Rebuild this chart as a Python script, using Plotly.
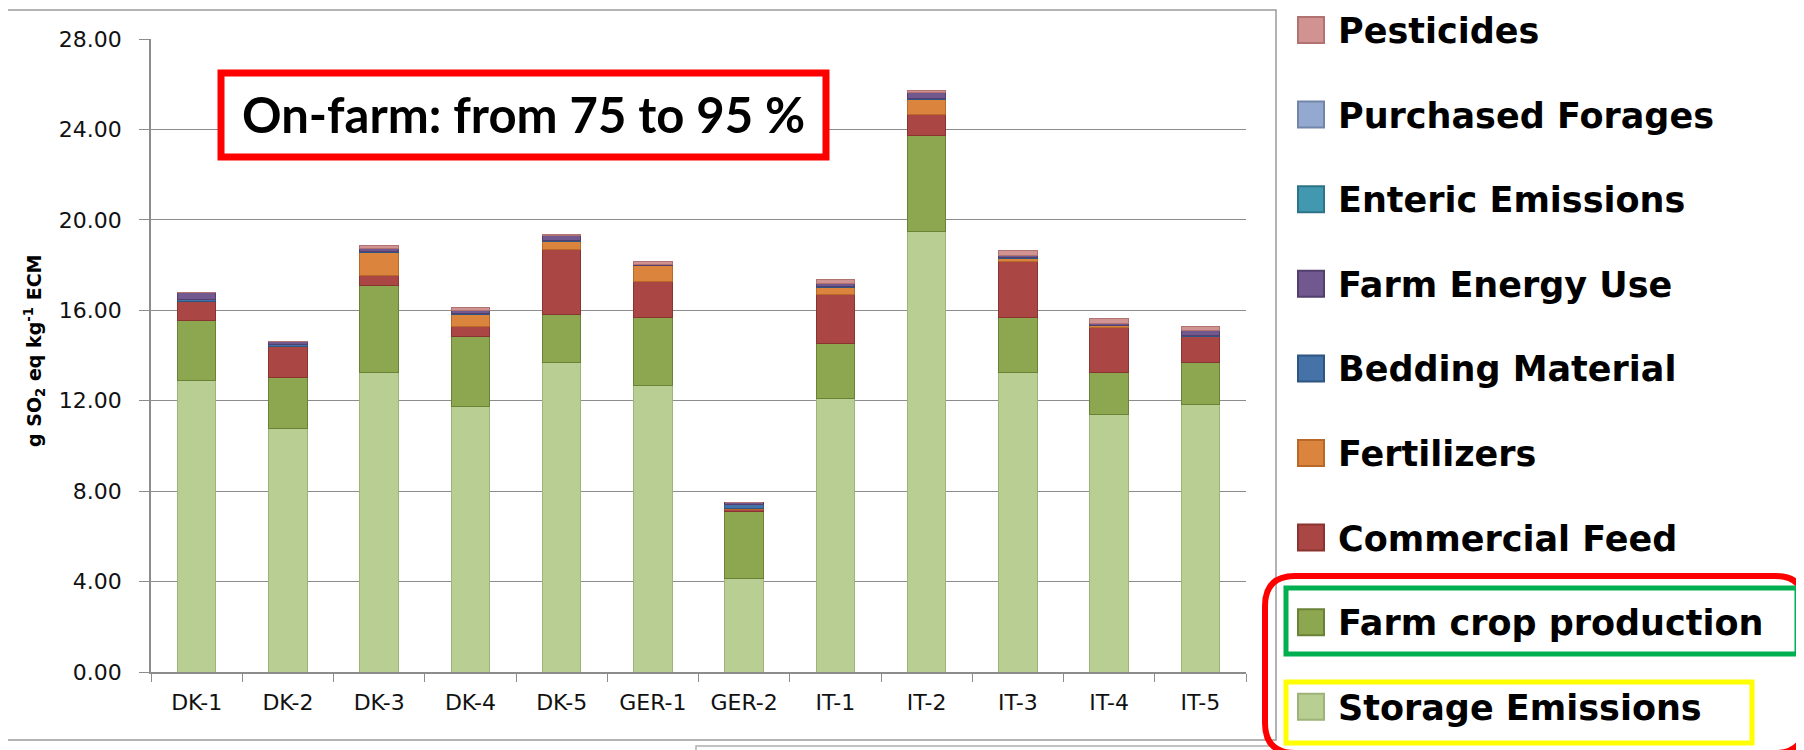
import plotly.graph_objects as go

categories = ["DK-1", "DK-2", "DK-3", "DK-4", "DK-5", "GER-1", "GER-2", "IT-1", "IT-2", "IT-3", "IT-4", "IT-5"]

storage_emissions = [12.89, 10.76, 13.25, 11.76, 13.68, 12.69, 4.13, 12.10, 19.47, 13.25, 11.40, 11.84]
farm_crop_production = [2.64, 2.27, 3.86, 3.06, 2.14, 2.97, 2.98, 2.42, 4.28, 2.41, 1.84, 1.84]
commercial_feed = [0.84, 1.39, 0.44, 0.47, 2.88, 1.62, 0.10, 2.19, 0.91, 2.48, 2.01, 1.14]
fertilizers = [0.00, 0.00, 0.99, 0.53, 0.33, 0.68, 0.03, 0.32, 0.68, 0.15, 0.06, 0.00]
bedding_material = [0.10, 0.06, 0.04, 0.04, 0.04, 0.02, 0.15, 0.03, 0.05, 0.03, 0.02, 0.05]
farm_energy_use = [0.30, 0.14, 0.14, 0.14, 0.22, 0.06, 0.12, 0.14, 0.26, 0.10, 0.10, 0.22]
enteric_emissions = [0.0] * 12
purchased_forages = [0.0] * 12
pesticides = [0.03, 0.02, 0.14, 0.13, 0.08, 0.10, 0.00, 0.16, 0.09, 0.22, 0.20, 0.20]

y_ticks = [0, 4, 8, 12, 16, 20, 24, 28]

# stacking order bottom -> top
series = [
    ("Storage Emissions", storage_emissions, "#B8CE93", "#9DB377"),
    ("Farm crop production", farm_crop_production, "#8CA750", "#6A8236"),
    ("Commercial Feed", commercial_feed, "#AA4643", "#8A3431"),
    ("Fertilizers", fertilizers, "#DB843D", "#B8692A"),
    ("Bedding Material", bedding_material, "#4572A7", "#2F5582"),
    ("Farm Energy Use", farm_energy_use, "#71588F", "#533F6E"),
    ("Enteric Emissions", enteric_emissions, "#4198AF", "#2D7488"),
    ("Purchased Forages", purchased_forages, "#93A9CF", "#7286AA"),
    ("Pesticides", pesticides, "#D19392", "#B07372"),
]

fig = go.Figure()
for name, vals, col, lcol in series:
    fig.add_trace(go.Bar(
        x=categories, y=vals, name=name, showlegend=False,
        marker=dict(color=col, line=dict(color=lcol, width=1)),
    ))

# geometry (pixels of the 1804x750 canvas)
W, H = 1804, 750
PL, PR, PT, PB = 143, 1238, 31, 664


def px(x):
    return (x - PL) / (PR - PL)


def py(y):
    return (PB - y) / (PB - PT)


shapes = []
annotations = []

# chart-area border
shapes.append(dict(type="path", xref="paper", yref="paper",
                   path=f"M{px(-5)},{py(2)} L{px(1268)},{py(2)} L{px(1268)},{py(732)} L{px(-5)},{py(732)}",
                   line=dict(color="#9a9a9a", width=1.5)))
# lower partial box
shapes.append(dict(type="path", xref="paper", yref="paper",
                   path=f"M{px(688)},{py(760)} L{px(688)},{py(738)} L{px(1268)},{py(738)}",
                   line=dict(color="#b0b0b0", width=1.5)))

# legend (top entry = last stacked series)
LEG_Y0, LEG_DY = 22, 84.6
for i, (name, vals, col, lcol) in enumerate(reversed(series)):
    yc = LEG_Y0 + LEG_DY * i
    shapes.append(dict(type="rect", xref="paper", yref="paper",
                       x0=px(1290), x1=px(1316), y0=py(yc - 13), y1=py(yc + 13),
                       fillcolor=col, line=dict(color=lcol, width=2)))
    annotations.append(dict(xref="paper", yref="paper", x=px(1328), y=py(yc + 1),
                            text=f"<b>{name}</b>", showarrow=False,
                            xanchor="left", yanchor="middle",
                            font=dict(family="DejaVu Sans", size=35, color="black")))

# annotation box
shapes.append(dict(type="rect", xref="paper", yref="paper",
                   x0=px(213), x1=px(818), y0=py(65), y1=py(149),
                   line=dict(color="#FF0000", width=7), fillcolor="white", layer="above"))
annotations.append(dict(xref="paper", yref="paper", x=px(515), y=py(106),
                        text="<b>On-farm: from 75 to 95 %</b>", showarrow=False,
                        font=dict(family="Lato", size=49, color="black"),
                        xanchor="center", yanchor="middle"))


def rounded(x0, y0, x1, y1, r):
    X0, X1 = px(x0), px(x1)
    Y0, Y1 = py(y0), py(y1)
    rx = r / (PR - PL)
    ry = r / (PB - PT)
    return (f"M{X0+rx},{Y0} L{X1-rx},{Y0} Q{X1},{Y0} {X1},{Y0-ry} "
            f"L{X1},{Y1+ry} Q{X1},{Y1} {X1-rx},{Y1} L{X0+rx},{Y1} "
            f"Q{X0},{Y1} {X0},{Y1+ry} L{X0},{Y0-ry} Q{X0},{Y0} {X0+rx},{Y0} Z")


shapes.append(dict(type="path", xref="paper", yref="paper",
                   path=rounded(1257, 568, 1797, 745, 30),
                   line=dict(color="#FF0000", width=6)))
shapes.append(dict(type="rect", xref="paper", yref="paper",
                   x0=px(1278), x1=px(1789), y0=py(580), y1=py(646),
                   line=dict(color="#00B050", width=5)))
shapes.append(dict(type="rect", xref="paper", yref="paper",
                   x0=px(1278), x1=px(1744), y0=py(674), y1=py(735),
                   line=dict(color="#FFFF00", width=5)))

# y-axis title
annotations.append(dict(xref="paper", yref="paper", x=px(26), y=py(343),
                        text="<b>g SO<sub>2</sub> eq kg<sup>-1</sup> ECM</b>", showarrow=False,
                        textangle=-90, font=dict(family="DejaVu Sans", size=19, color="black"),
                        xanchor="center", yanchor="middle"))

fig.update_layout(
    width=W, height=H,
    barmode="stack", bargap=0.58,
    plot_bgcolor="white", paper_bgcolor="white",
    margin=dict(l=PL, r=W - PR, t=PT, b=H - PB, autoexpand=False),
    showlegend=False,
    shapes=shapes,
    annotations=annotations,
)
fig.update_xaxes(
    type="category", showline=True, linecolor="#8c8c8c", linewidth=1.5,
    ticks="outside", tickson="boundaries", ticklen=8, tickcolor="#8c8c8c",
    ticklabelstandoff=10,
    tickfont=dict(family="DejaVu Sans", size=22, color="#111"), showgrid=False,
)
fig.update_yaxes(
    range=[0, 28], tickvals=y_ticks, ticktext=[f"{v:.2f}" for v in y_ticks],
    showline=True, linecolor="#8c8c8c", linewidth=1.5,
    ticks="outside", ticklen=10, tickcolor="#8c8c8c", ticklabelstandoff=13,
    showgrid=True, gridcolor="#8c8c8c", gridwidth=1.2,
    tickfont=dict(family="DejaVu Sans", size=22, color="#111"), zeroline=False,
)

fig.write_html("out.html")
